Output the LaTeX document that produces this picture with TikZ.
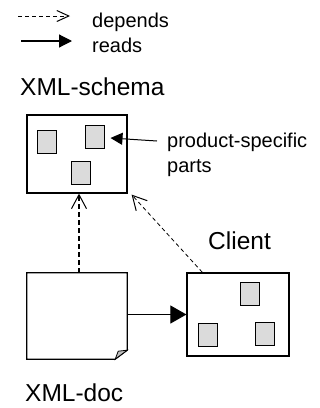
\documentclass[tikz,border=0pt]{standalone}
\usepackage{fontspec}
\setmainfont{Liberation Sans}
\usetikzlibrary{arrows.meta,calc}
\begin{document}
\begin{tikzpicture}[x=1pt,y=-1pt,
  frame/.style={draw,line width=1.2pt,inner sep=0pt},
  part/.style={draw,line width=1pt,fill=black!14,minimum width=19pt,minimum height=23pt,inner sep=0pt},
  title/.style={anchor=base west,inner sep=0pt,font=\fontsize{24.5}{28}\selectfont},
  label/.style={anchor=base west,inner sep=0pt,font=\fontsize{20}{24}\selectfont},
  dep/.style={dashed,dash pattern=on 4pt off 3pt,-{Straight Barb[length=14pt,width=15pt,line width=1pt]}},
  reads/.style={line width=1.2pt,-{Triangle[length=16pt,width=18pt]}}]
\useasboundingbox (0,0) rectangle (320,408);

% legend
\coordinate (ldA) at (18,16);
\coordinate (ldB) at (70,16);
\coordinate (lrA) at (21,41);
\coordinate (lrB) at (72,41);
\draw[dep,line width=1pt,-{Straight Barb[length=12pt,width=11pt,line width=1pt]}] (ldA) -- (ldB);
\draw[reads,-{Triangle[length=13pt,width=13pt]}] (lrA) -- (lrB);
\node[label] (tdep) at (92,27) {depends};
\node[label] (trd) at (92,52) {reads};

% XML schema
\node[title] (tschema) at (20,95) {XML-schema};
\node[frame,minimum width=100pt,minimum height=78pt] (schema) at (77,154) {};
\node[part] (s1) at (47,141.5) {};
\node[part] (s2) at (94.5,136.5) {};
\node[part] (s3) at (81,172.5) {};
\node[label] (tparts) at (167,147) {product-specific};
\node[label] (tparts2) at (167,172) {parts};
\coordinate (pstart) at (157,141);
\draw[line width=1pt,-{Triangle[length=12pt,width=12pt]}] (pstart) -- ($(s2.east)+(6,1.5)$);

% XML document with folded corner
\node[inner sep=0pt,minimum width=100pt,minimum height=86pt] (doc) at (77,316) {};
\draw[line width=1.2pt,fill=white]
  (doc.north west) -- (doc.north east) -- ($(doc.south east)+(0,-9)$)
  -- ($(doc.south east)+(-12,0)$) -- (doc.south west) -- cycle;
\draw[line width=0.8pt,fill=black!25]
  ($(doc.south east)+(-12,0)$) -- ($(doc.south east)+(0,-9)$) -- ($(doc.south east)+(-9,-8)$) -- cycle;
\node[title] (tdoc) at (25,401) {XML-doc};

% client
\node[title] (tclient) at (208,249.5) {Client};
\node[frame,minimum width=102pt,minimum height=83pt] (client) at (238,314.5) {};
\node[part] (c1) at (249.5,294) {};
\node[part] (c2) at (207.5,335) {};
\node[part] (c3) at (264.5,334) {};

% connectors
\draw[reads,line width=1pt] (client.west -| doc.east) -- (client.west);
\draw[dep,line width=2pt,dash pattern=on 5pt off 3pt] ($(doc.north)+(2,0)$) -- ($(schema.south)+(2,0)$);
\coordinate (ctop) at ($(client.north west)+(16,0)$);
\coordinate (stip) at ($(schema.south east)+(4,1)$);
\draw[dep,line width=0.8pt,dash pattern=on 4pt off 3pt] (ctop) -- (stip);
\end{tikzpicture}
\end{document}
